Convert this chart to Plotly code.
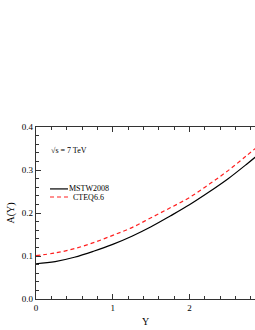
import plotly.graph_objects as go

rapidity = [0, 0.25, 0.5, 0.75, 1.0, 1.25, 1.5, 1.75, 2.0, 2.25, 2.5, 2.75, 2.9]
mstw2008 = [0.082, 0.087, 0.097, 0.111, 0.127, 0.146, 0.168, 0.193, 0.219, 0.248, 0.279, 0.314, 0.336]
cteq66 = [0.101, 0.107, 0.117, 0.131, 0.148, 0.166, 0.189, 0.212, 0.236, 0.266, 0.298, 0.334, 0.356]
series_names = ["MSTW2008", "CTEQ6.6"]
energy_label = "√s = 7 TeV"

FONT = "Liberation Serif"
AX = "#333333"
RED = "#ff2020"
DASH = "4px,3px"

fig = go.Figure()
fig.add_trace(go.Scatter(x=rapidity, y=mstw2008, mode="lines", name=series_names[0],
                         line=dict(color="black", width=1.2, shape="spline"), showlegend=False))
fig.add_trace(go.Scatter(x=rapidity, y=cteq66, mode="lines", name=series_names[1],
                         line=dict(color=RED, width=1.2, dash=DASH, shape="spline"), showlegend=False))

# legend drawn manually (compact)
fig.add_shape(type="line", xref="paper", yref="paper", x0=0.064, x1=0.146, y0=0.640, y1=0.640,
              line=dict(color="black", width=1.2))
fig.add_shape(type="line", xref="paper", yref="paper", x0=0.064, x1=0.146, y0=0.593, y1=0.593,
              line=dict(color=RED, width=1.2, dash=DASH))
fig.add_annotation(xref="paper", yref="paper", x=0.142, y=0.640, text=series_names[0], showarrow=False,
                   xanchor="left", yanchor="middle", font=dict(family=FONT, size=8, color="black"))
fig.add_annotation(xref="paper", yref="paper", x=0.160, y=0.593, text=series_names[1], showarrow=False,
                   xanchor="left", yanchor="middle", font=dict(family=FONT, size=8, color="black"))
fig.add_annotation(xref="paper", yref="paper", x=0.060, y=0.866, text=energy_label, showarrow=False,
                   xanchor="left", yanchor="middle", font=dict(family=FONT, size=8, color="black"))

fig.update_layout(
    width=255, height=330,
    margin=dict(l=36, r=0, t=127, b=31),
    paper_bgcolor="white", plot_bgcolor="white",
    font=dict(family=FONT, size=9, color="black"),
    xaxis=dict(range=[0, 2.855], tickvals=[0, 1, 2], ticktext=["0", "1", "2"],
               ticks="inside", ticklen=5, tickwidth=1, tickcolor=AX, automargin=False,
               showline=True, linecolor=AX, linewidth=1.3, mirror="ticks",
               showgrid=False, zeroline=False,
               minor=dict(dtick=0.2, tick0=0, ticks="inside", ticklen=3, tickcolor=AX),
               title=dict(text="Y", font=dict(family=FONT, size=10), standoff=6),
               tickfont=dict(family=FONT, size=9)),
    yaxis=dict(range=[0, 0.4], tickvals=[0, 0.1, 0.2, 0.3, 0.4], ticktext=["0.0", "0.1", "0.2", "0.3", "0.4"],
               ticks="inside", ticklen=5, tickwidth=1, tickcolor=AX, automargin=False,
               showline=True, linecolor=AX, linewidth=1.3, mirror=False,
               showgrid=False, zeroline=False,
               minor=dict(dtick=0.02, tick0=0, ticks="inside", ticklen=3, tickcolor=AX),
               title=dict(text="A(Y)", font=dict(family=FONT, size=10), standoff=5),
               tickfont=dict(family=FONT, size=9)),
)

fig.write_html("out.html", config={"displayModeBar": False},
               post_script="document.body.style.margin='0';")
